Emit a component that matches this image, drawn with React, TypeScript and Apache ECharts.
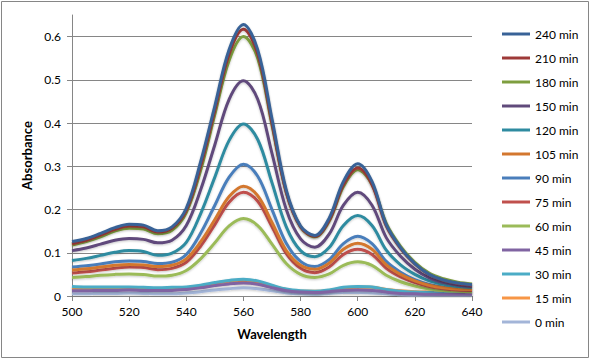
import React, { useEffect, useRef } from "react";
import * as echarts from "echarts";

const wavelengths = [500, 505, 510, 515, 520, 525, 530, 535, 540, 545, 550, 555, 560, 565, 570, 575, 580, 585, 590, 595, 600, 605, 610, 615, 620, 625, 630, 635, 640];

const min0 = [0.005, 0.005, 0.006, 0.006, 0.007, 0.006, 0.005, 0.005, 0.007, 0.010, 0.014, 0.017, 0.019, 0.017, 0.012, 0.007, 0.005, 0.004, 0.006, 0.008, 0.008, 0.007, 0.005, 0.003, 0.002, 0.002, 0.002, 0.002, 0.002];
const min15 = [0.018, 0.018, 0.018, 0.018, 0.018, 0.017, 0.016, 0.017, 0.019, 0.023, 0.029, 0.034, 0.036, 0.032, 0.023, 0.015, 0.011, 0.011, 0.013, 0.018, 0.020, 0.020, 0.015, 0.012, 0.010, 0.009, 0.009, 0.009, 0.009];
const min30 = [0.022, 0.021, 0.021, 0.021, 0.021, 0.020, 0.019, 0.020, 0.021, 0.025, 0.031, 0.036, 0.039, 0.035, 0.025, 0.016, 0.012, 0.011, 0.014, 0.020, 0.022, 0.021, 0.015, 0.011, 0.009, 0.008, 0.007, 0.007, 0.006];
const min45 = [0.012, 0.012, 0.013, 0.013, 0.014, 0.013, 0.013, 0.013, 0.015, 0.019, 0.024, 0.028, 0.030, 0.027, 0.019, 0.012, 0.009, 0.008, 0.010, 0.013, 0.014, 0.013, 0.009, 0.006, 0.005, 0.004, 0.004, 0.004, 0.004];
const min60 = [0.043, 0.045, 0.048, 0.050, 0.051, 0.050, 0.046, 0.048, 0.059, 0.086, 0.123, 0.162, 0.179, 0.163, 0.120, 0.075, 0.050, 0.043, 0.051, 0.071, 0.079, 0.071, 0.048, 0.033, 0.023, 0.016, 0.013, 0.011, 0.010];
const min75 = [0.053, 0.056, 0.060, 0.064, 0.067, 0.066, 0.061, 0.064, 0.078, 0.115, 0.165, 0.217, 0.240, 0.219, 0.160, 0.098, 0.064, 0.054, 0.067, 0.096, 0.108, 0.096, 0.064, 0.044, 0.031, 0.022, 0.017, 0.014, 0.013];
const min90 = [0.067, 0.070, 0.074, 0.079, 0.081, 0.080, 0.075, 0.078, 0.096, 0.145, 0.210, 0.275, 0.305, 0.277, 0.200, 0.122, 0.080, 0.068, 0.084, 0.121, 0.138, 0.121, 0.080, 0.055, 0.038, 0.027, 0.021, 0.018, 0.016];
const min105 = [0.060, 0.063, 0.067, 0.071, 0.073, 0.072, 0.068, 0.071, 0.086, 0.125, 0.177, 0.230, 0.254, 0.232, 0.170, 0.105, 0.071, 0.062, 0.076, 0.108, 0.122, 0.108, 0.072, 0.050, 0.035, 0.025, 0.019, 0.016, 0.015];
const min120 = [0.082, 0.087, 0.094, 0.101, 0.105, 0.103, 0.094, 0.099, 0.124, 0.190, 0.275, 0.360, 0.398, 0.362, 0.262, 0.160, 0.105, 0.091, 0.112, 0.163, 0.186, 0.163, 0.106, 0.072, 0.050, 0.035, 0.027, 0.022, 0.020];
const min150 = [0.105, 0.111, 0.120, 0.129, 0.133, 0.131, 0.123, 0.129, 0.163, 0.245, 0.350, 0.455, 0.498, 0.455, 0.330, 0.200, 0.132, 0.113, 0.143, 0.210, 0.240, 0.210, 0.135, 0.092, 0.062, 0.042, 0.031, 0.025, 0.022];
const min180 = [0.118, 0.126, 0.137, 0.150, 0.157, 0.155, 0.144, 0.152, 0.193, 0.290, 0.420, 0.545, 0.600, 0.550, 0.395, 0.240, 0.160, 0.137, 0.173, 0.253, 0.292, 0.258, 0.168, 0.115, 0.078, 0.053, 0.040, 0.032, 0.028];
const min210 = [0.121, 0.129, 0.141, 0.154, 0.162, 0.160, 0.148, 0.157, 0.198, 0.300, 0.430, 0.560, 0.617, 0.560, 0.400, 0.240, 0.160, 0.138, 0.175, 0.257, 0.296, 0.258, 0.162, 0.110, 0.074, 0.049, 0.036, 0.029, 0.025];
const min240 = [0.126, 0.133, 0.145, 0.158, 0.166, 0.164, 0.151, 0.160, 0.203, 0.310, 0.440, 0.570, 0.628, 0.570, 0.410, 0.245, 0.162, 0.140, 0.180, 0.265, 0.306, 0.265, 0.165, 0.112, 0.075, 0.050, 0.037, 0.030, 0.026];

const seriesNames = ["0 min", "15 min", "30 min", "45 min", "60 min", "75 min", "90 min", "105 min", "120 min", "150 min", "180 min", "210 min", "240 min"];
const seriesValues = [min0, min15, min30, min45, min60, min75, min90, min105, min120, min150, min180, min210, min240];
const seriesColors = ["#A3B5D8", "#F79646", "#4BACC6", "#8064A2", "#9BBB59", "#C0504D", "#4A7EBB", "#D3772F", "#2E8BA0", "#604A7B", "#7E9E3F", "#9E3A38", "#386297"];

const xTicks = { min: 500, max: 640, step: 20 };
const yTicks = { min: 0, max: 0.65, step: 0.1 };

const FONT = "Lato, 'Open Sans', sans-serif";

export default function App() {
  const ref = useRef<HTMLDivElement>(null);

  useEffect(() => {
    if (!ref.current) return;
    const chart = echarts.init(ref.current, null, { renderer: "svg" });
    const series = seriesNames.map((name, i) => ({
      name,
      type: "line",
      smooth: 0.35,
      symbol: "none",
      data: wavelengths.map((w, j) => [w, seriesValues[i][j]]),
      lineStyle: {
        width: 3,
        color: seriesColors[i],
        shadowColor: "rgba(0,0,0,0.22)",
        shadowBlur: 2,
        shadowOffsetY: 1,
      },
      itemStyle: { color: seriesColors[i] },
      z: 2 + i,
    }));

    chart.setOption({
      animation: false,
      backgroundColor: "#ffffff",
      textStyle: { fontFamily: FONT },
      graphic: [
        {
          type: "rect",
          shape: { x: 1.5, y: 1.5, width: 587, height: 356 },
          style: { fill: "none", stroke: "#868686", lineWidth: 1 },
          silent: true,
          z: 0,
        },
      ],
      grid: { left: 72, right: 119, top: 15, bottom: 64, containLabel: false },
      legend: {
        orient: "vertical",
        left: 497,
        top: 22,
        icon: "rect",
        itemWidth: 28,
        itemHeight: 3,
        itemGap: 10,
        data: [...seriesNames].reverse(),
        textStyle: { fontFamily: FONT, fontSize: 12, color: "#000", lineHeight: 14 },
      },
      xAxis: {
        type: "value",
        min: xTicks.min,
        max: xTicks.max,
        interval: xTicks.step,
        name: "Wavelength",
        nameLocation: "middle",
        nameGap: 31,
        nameTextStyle: { fontFamily: FONT, fontWeight: "bold", fontSize: 13, color: "#000" },
        axisLine: { show: true, lineStyle: { color: "#868686", width: 1 } },
        axisTick: { show: true, length: 5, lineStyle: { color: "#868686" } },
        axisLabel: { margin: 9, fontFamily: FONT, fontSize: 12, color: "#000" },
        splitLine: { show: false },
      },
      yAxis: {
        type: "value",
        min: yTicks.min,
        max: yTicks.max,
        interval: yTicks.step,
        name: "Absorbance",
        nameLocation: "middle",
        nameGap: 38,
        nameTextStyle: { fontFamily: FONT, fontWeight: "bold", fontSize: 13, color: "#000" },
        axisLine: { show: true, lineStyle: { color: "#868686", width: 1 } },
        axisTick: { show: true, length: 5, lineStyle: { color: "#868686" } },
        axisLabel: {
          margin: 11,
          fontFamily: FONT,
          fontSize: 12,
          color: "#000",
          showMaxLabel: false,
          formatter: (v: number) => (v === 0 ? "0" : v.toFixed(1)),
        },
        splitLine: { show: true, showMinLine: false, showMaxLine: false, lineStyle: { color: "#868686", width: 1 } },
      },
      series,
    });
    return () => chart.dispose();
  }, []);

  return (
    <div
      ref={ref}
      style={{ position: "fixed", left: 0, top: 0, width: 591, height: 360 }}
    />
  );
}
